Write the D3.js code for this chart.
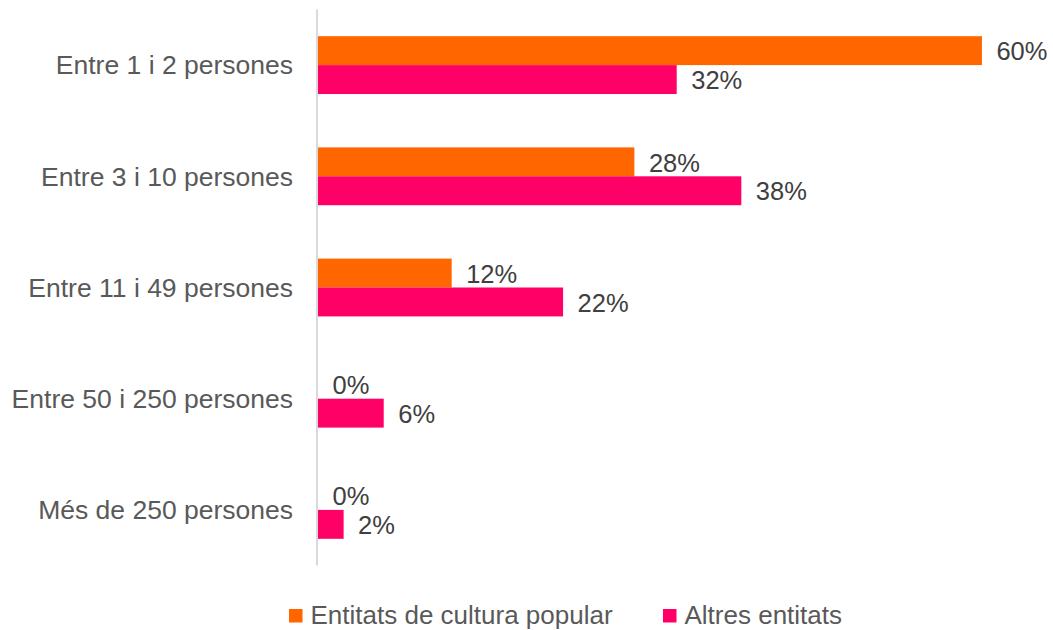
<!DOCTYPE html>
<html>
<head>
<meta charset="utf-8">
<script src="https://cdn.jsdelivr.net/npm/d3@7/dist/d3.min.js"></script>
<style>
  html, body { margin: 0; padding: 0; background: #fff; }
  svg { display: block; }
  text { font-family: "Liberation Sans", Arial, sans-serif; }
</style>
</head>
<body>
<svg id="chart" width="1053" height="630"></svg>
<script>
const categories = ["Entre 1 i 2 persones", "Entre 3 i 10 persones", "Entre 11 i 49 persones", "Entre 50 i 250 persones", "Més de 250 persones"];
const seriesNames = ["Entitats de cultura popular", "Altres entitats"];
const culturaPopular = [0.596, 0.284, 0.120, 0.000, 0.000];
const altresEntitats = [0.322, 0.380, 0.220, 0.059, 0.023];
const colors = ["#FF6600", "#FF0066"];

const seriesValues = [culturaPopular, altresEntitats];
const rows = categories.map((c, i) => ({
  cat: c,
  vals: seriesNames.map((s, j) => ({ series: s, idx: j, value: seriesValues[j][i] }))
}));

const svg = d3.select("#chart");
const fsVal = 25.5;
const fsCat = 26.5;
const fsLeg = 26;

const x = d3.scaleLinear().domain([0, 0.65]).range([318, 318 + 0.65 * 1114]);
const y0 = d3.scaleBand().domain(categories).range([9.5, 565.5]).paddingInner(0.48).paddingOuter(0.24);
const y1 = d3.scaleBand().domain(seriesNames).range([0, y0.bandwidth()]);

// axis line
svg.append("line")
  .attr("x1", 317).attr("x2", 317)
  .attr("y1", 9.5).attr("y2", 565.5)
  .attr("stroke", "#d9d9d9").attr("stroke-width", 2);

const g = svg.selectAll("g.cat").data(rows).enter().append("g")
  .attr("class", "cat")
  .attr("transform", d => `translate(0,${y0(d.cat)})`);

g.selectAll("rect").data(d => d.vals).enter().append("rect")
  .attr("x", x(0))
  .attr("y", d => y1(d.series))
  .attr("width", d => x(d.value) - x(0))
  .attr("height", y1.bandwidth())
  .attr("fill", d => colors[d.idx]);

const fmt = d3.format(".0%");
g.selectAll("text.val").data(d => d.vals).enter().append("text")
  .attr("class", "val")
  .attr("x", d => x(d.value) + 14.5)
  .attr("y", d => y1(d.series) + y1.bandwidth() / 2)
  .attr("dy", "0.38em")
  .attr("font-size", fsVal)
  .attr("fill", "#404040")
  .text(d => fmt(d.value));

// category labels
svg.selectAll("text.cat").data(categories).enter().append("text")
  .attr("class", "cat")
  .attr("x", 293)
  .attr("y", d => y0(d) + y0.bandwidth() / 2)
  .attr("dy", "0.35em")
  .attr("text-anchor", "end")
  .attr("font-size", fsCat)
  .attr("fill", "#595959")
  .text(d => d);

// legend
const legendX = [289, 663];
const lg = svg.selectAll("g.leg").data(seriesNames).enter().append("g")
  .attr("class", "leg")
  .attr("transform", (d, i) => `translate(${legendX[i]},609)`);
lg.append("rect").attr("width", 13.5).attr("height", 13.5).attr("fill", (d, i) => colors[i]);
lg.append("text")
  .attr("x", 21.5).attr("y", 6.75).attr("dy", "0.33em")
  .attr("font-size", fsLeg)
  .attr("fill", "#595959")
  .text(d => d);
</script>
</body>
</html>
